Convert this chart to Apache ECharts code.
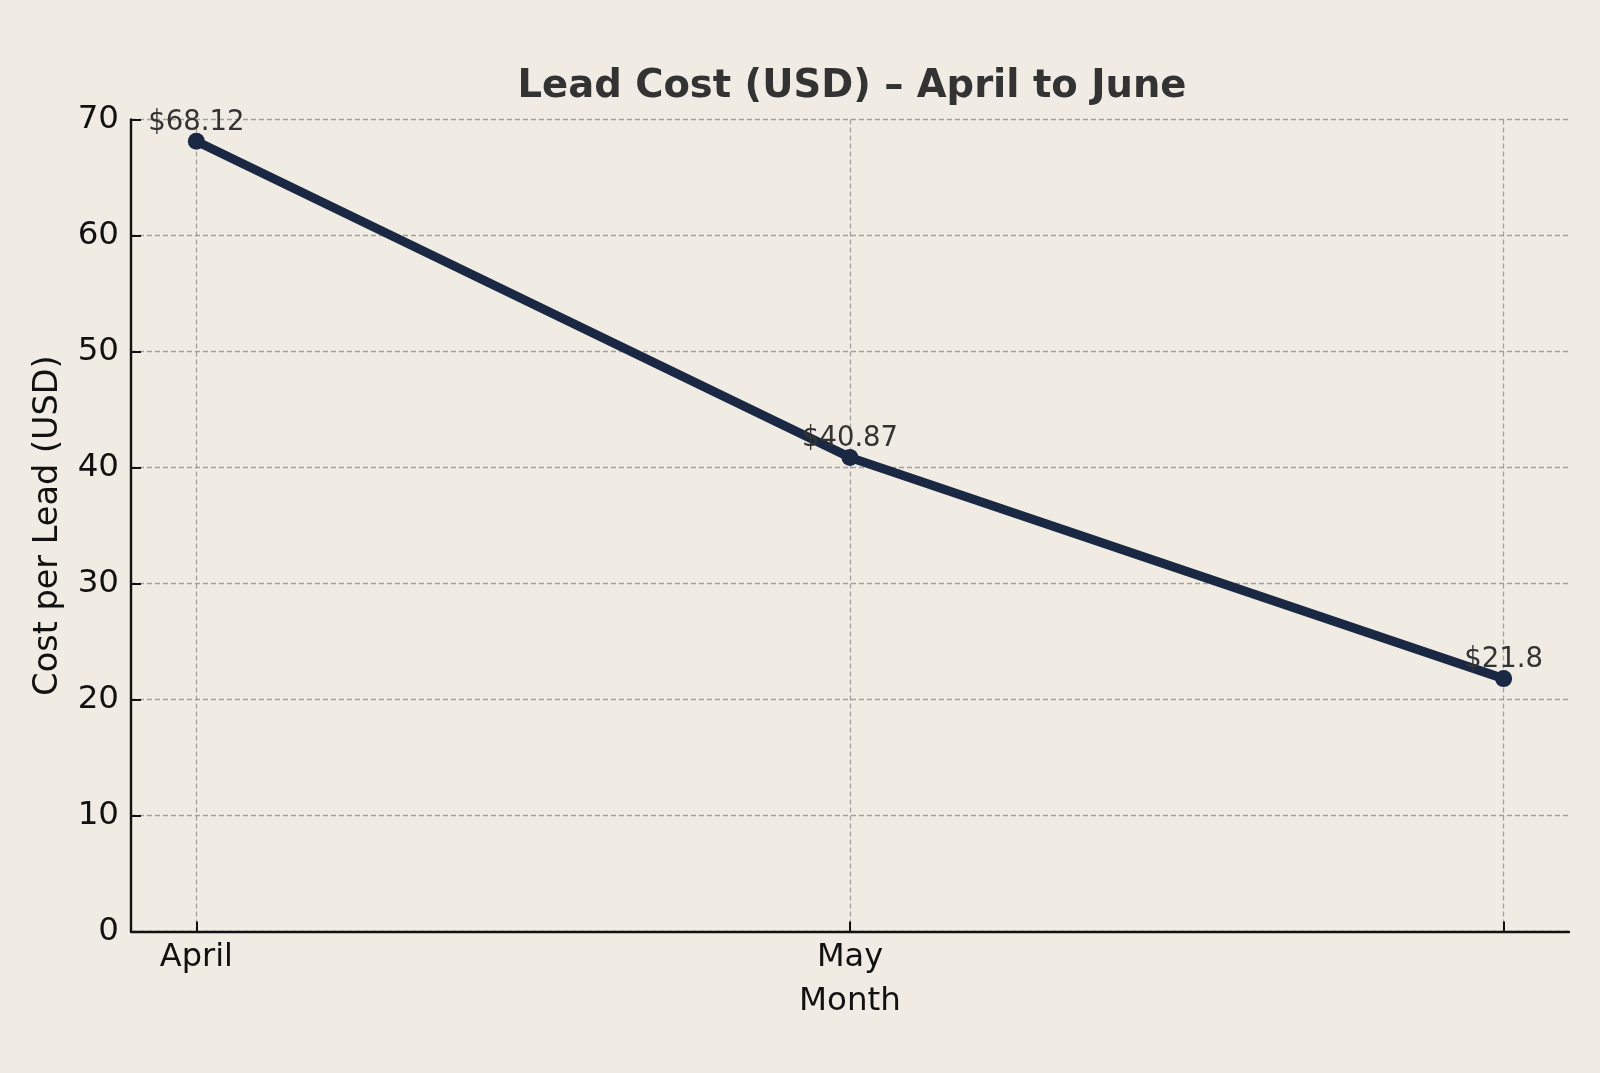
<!DOCTYPE html>
<html>
<head>
<meta charset="utf-8">
<script src="https://cdn.jsdelivr.net/npm/echarts@6/dist/echarts.min.js"></script>
<style>
  html, body { margin: 0; padding: 0; background: #f0ece4; }
  #chart { width: 1600px; height: 1073px; }
</style>
</head>
<body>
<div id="chart"></div>
<script>
// data
const months = ['April', 'May', 'June']
const leadCost = [68.12, 40.87, 21.8]
const yTicks = [0, 10, 20, 30, 40, 50, 60, 70]
// June has no tick label in the original picture
const shownLabels = [0, 1]

const font = 'DejaVu Sans'
const chart = echarts.init(document.getElementById('chart'), null, { renderer: 'canvas' })

const option = {
  backgroundColor: '#f0ece4',
  animation: false,
  title: {
    text: 'Lead Cost (USD) \u2013 April to June',
    left: 847,
    top: 62,
    textAlign: 'center',
    textStyle: { fontFamily: font, fontSize: 38.5, fontWeight: 'bold', color: '#333333' }
  },
  grid: { left: 131, right: 31, top: 119.5, bottom: 141.5, containLabel: false },
  xAxis: {
    type: 'value',
    min: -0.1,
    max: 2.1,
    name: 'Month',
    nameLocation: 'middle',
    nameGap: 54,
    nameTextStyle: { fontFamily: font, fontSize: 32.5, color: '#111' },
    axisLine: { show: true, onZero: false, lineStyle: { color: '#111', width: 2.4 } },
    axisTick: { show: true, inside: true, length: 10, customValues: [0, 1, 2], lineStyle: { color: '#111', width: 2 } },
    axisLabel: {
      customValues: shownLabels,
      fontFamily: font, fontSize: 32, color: '#111', margin: 10,
      formatter: v => months[Math.round(v)]
    },
    splitLine: { show: true, lineStyle: { color: '#a0a0a0', width: 1.3, type: [5, 3] } }
  },
  yAxis: {
    type: 'value',
    min: yTicks[0],
    max: yTicks[yTicks.length - 1],
    interval: 10,
    name: 'Cost per Lead (USD)',
    nameLocation: 'middle',
    nameGap: 66,
    nameTextStyle: { fontFamily: font, fontSize: 33.5, color: '#111' },
    axisLine: { show: true, onZero: false, lineStyle: { color: '#111', width: 2.4 } },
    axisTick: { show: true, inside: true, length: 10, lineStyle: { color: '#111', width: 2 } },
    axisLabel: { fontFamily: font, fontSize: 32.5, color: '#111', margin: 12, padding: [6, 0, 0, 0] },
    splitLine: { show: true, lineStyle: { color: '#a0a0a0', width: 1.3, type: [5, 3] } }
  },
  series: [{
    type: 'line',
    data: leadCost.map((v, i) => [i, v]),
    symbol: 'circle',
    symbolSize: 17,
    lineStyle: { color: '#1b2843', width: 9 },
    itemStyle: { color: '#1b2843' },
    label: {
      show: true,
      position: 'top',
      distance: 0,
      offset: [0, 4],
      fontFamily: font,
      fontSize: 27.5,
      color: '#333333',
      formatter: p => '$' + p.value[1]
    }
  }]
}

chart.setOption(option)
</script>
</body>
</html>
